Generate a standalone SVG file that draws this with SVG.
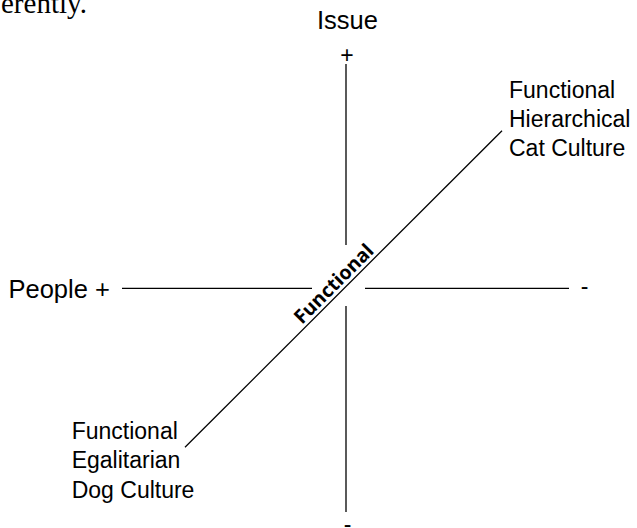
<svg xmlns="http://www.w3.org/2000/svg" width="637" height="528" viewBox="0 0 637 528">
<style>
.lbl{font-family:"Liberation Sans",Arial,sans-serif;font-size:23px;fill:#000}
.big{font-size:25.5px}
.ax{stroke:#000;stroke-width:1.3;fill:none}
.diag{font-family:"Open Sans","DejaVu Sans",sans-serif;font-weight:bold;font-size:19.5px;fill:#000}
</style>
<rect width="637" height="528" fill="#fff"/>
<text x="1" y="12.5" style="font-family:'Liberation Serif','Times New Roman',serif;font-size:29px">erently.</text>
<g id="connectors">
<line class="ax" x1="346" y1="64" x2="346" y2="245"/>
<line class="ax" x1="346" y1="306" x2="346" y2="512"/>
<line class="ax" x1="122" y1="288.3" x2="312" y2="288.3"/>
<line class="ax" x1="365" y1="288.3" x2="569" y2="288.3"/>
<line class="ax" x1="185" y1="447.3" x2="502" y2="130.7"/>
</g>
<g id="issue"><text class="lbl big" x="347.5" y="29.3" text-anchor="middle">Issue</text><text class="lbl" x="347" y="63" text-anchor="middle">+</text></g>
<g id="people"><text class="lbl big" x="8.5" y="298">People +</text></g>
<g id="right-minus"><text class="lbl" x="580.7" y="293.7">-</text></g>
<g id="bottom-minus"><text class="lbl" x="347.5" y="531.7" text-anchor="middle">-</text></g>
<g id="cat"><text class="lbl" x="509" y="97.7">Functional</text><text class="lbl" x="509" y="126.7">Hierarchical</text><text class="lbl" x="509" y="155.7">Cat Culture</text></g>
<g id="dog"><text class="lbl" x="71.7" y="439.3">Functional</text><text class="lbl" x="71.7" y="468.3">Egalitarian</text><text class="lbl" x="71.7" y="497.7">Dog Culture</text></g>
<g id="functional"><text class="diag" transform="translate(338.5,288.5) rotate(-45)" text-anchor="middle">Functional</text></g>
</svg>
